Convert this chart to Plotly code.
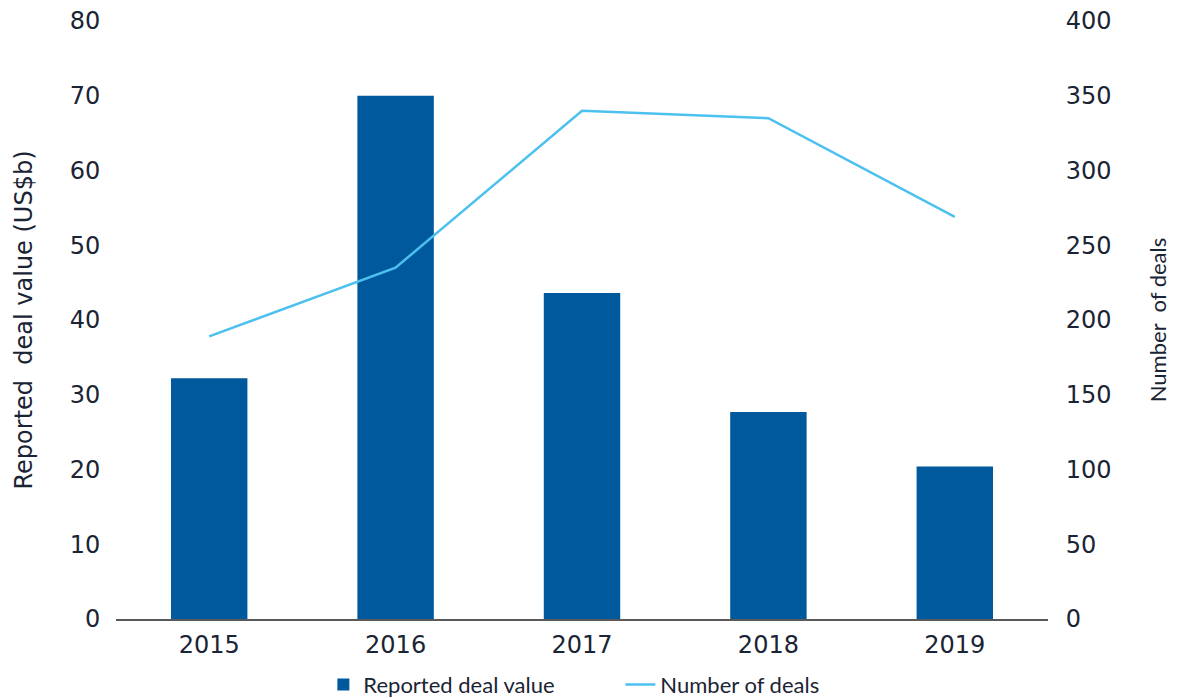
import plotly.graph_objects as go

years = ["2015", "2016", "2017", "2018", "2019"]
deal_value = [32.2, 70.0, 43.6, 27.7, 20.4]
deal_count = [189, 235, 340, 335, 269]

BAR_BLUE = "#00599d"
LINE_BLUE = "#4cc0ef"
TEXT = "#1b2434"

fig = go.Figure()

fig.add_trace(go.Bar(
    x=years, y=deal_value,
    name="Reported deal value",
    marker=dict(color=BAR_BLUE, line=dict(width=0)),
    yaxis="y",
))

fig.add_trace(go.Scatter(
    x=years, y=deal_count,
    name="Number of deals",
    mode="lines",
    line=dict(color=LINE_BLUE, width=2.5),
    yaxis="y2",
))

fig.update_layout(
    width=1186, height=698,
    margin=dict(l=116, r=138, t=21, b=79, autoexpand=False),
    plot_bgcolor="white",
    paper_bgcolor="white",
    bargap=0.59,
    font=dict(family="DejaVu Sans", size=24, color=TEXT),
    showlegend=True,
    legend=dict(
        orientation="h", x=0.2225, xanchor="left", y=-0.11, yanchor="middle",
        font=dict(family="Lato", size=22, color=TEXT),
        itemwidth=30, entrywidth=252, tracegroupgap=0,
    ),
    xaxis=dict(
        type="category", automargin=False,
        showgrid=False, zeroline=False,
        showline=True, linecolor="#595959", linewidth=1.5,
        ticks="outside", ticklen=3, tickcolor="white",
    ),
    yaxis=dict(
        range=[0, 80], dtick=10, automargin=False,
        showgrid=False, zeroline=False, showline=False,
        ticks="outside", ticklen=10, tickcolor="white",
        title=dict(text="Reported  deal value (US$b)", standoff=30,
                   font=dict(family="DejaVu Sans", size=24, color=TEXT)),
    ),
    yaxis2=dict(
        range=[0, 400], dtick=50, automargin=False,
        overlaying="y", side="right",
        showgrid=False, zeroline=False, showline=False,
        ticks="outside", ticklen=12, tickcolor="white",
        title=dict(text="Number  of deals", standoff=39,
                   font=dict(family="Lato", size=22, color=TEXT)),
    ),
)

# drop the browser's default body margin so the figure fills the window
fig.write_html(
    "out.html",
    config={"displayModeBar": False},
    post_script="document.body.style.margin = '0';",
)
